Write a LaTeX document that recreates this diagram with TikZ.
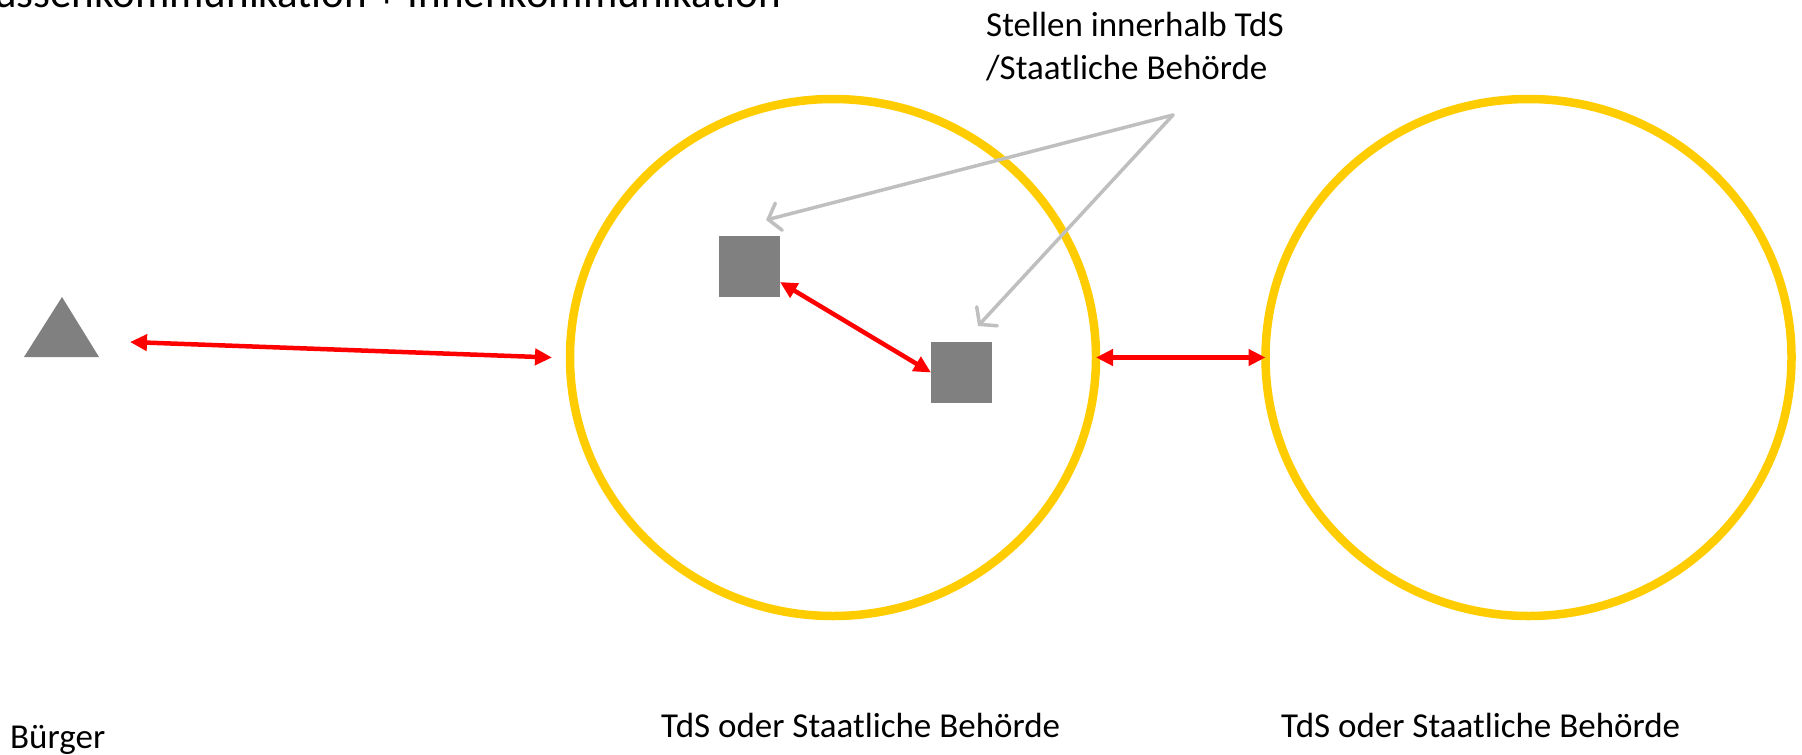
\documentclass[tikz,border=0pt]{standalone}
\usepackage{fontspec}
\setmainfont{Carlito}
\usetikzlibrary{arrows.meta,shapes.geometric,calc}
\definecolor{ringgold}{HTML}{FFCC00}
\definecolor{boxgray}{HTML}{808080}
\definecolor{pointergray}{HTML}{BFBFBF}
\definecolor{linkred}{HTML}{FF0000}

\begin{document}
\begin{tikzpicture}[x=1pt,y=-1pt,
  ring/.style={ellipse, draw=ringgold, line width=8.5pt, minimum width=526pt,
    minimum height=517pt, inner sep=0pt, outer sep=0pt},
  unit/.style={rectangle, fill=boxgray, minimum size=61pt, inner sep=0pt, outer sep=0pt},
  link/.style={draw=linkred, line width=4.5pt,
    {Triangle[length=17pt,width=16pt]}-{Triangle[length=17pt,width=16pt]}},
  pointer/.style={draw=pointergray, line width=3.5pt, line cap=round,
    -{Straight Barb[length=11pt,width=28pt,line cap=round]}},
  caption/.style={font=\fontsize{35}{43}\selectfont, inner sep=0pt, anchor=base west},
]
\useasboundingbox (0,0) rectangle (1802,755);
\clip (0,0) rectangle (1802,755);

% heading, partly above the page edge
\node[anchor=base east, inner sep=0pt, font=\fontsize{43}{50}\selectfont] (heading)
  at (781,7) {Aussenkommunikation + Innenkommunikation};

% citizen
\fill[boxgray] (62,297) -- (99,357) -- (24,357) -- cycle;
\coordinate (citizen) at (130,342);

% two authorities
\node[ring] (tds) at (833,357.5) {};
\node[ring] (peer) at (1528.5,357.5) {};

% offices inside the first authority
\node[unit] (stelleA) at (749.5,266.5) {};
\node[unit] (stelleB) at (961.5,372.5) {};

% communication links
\draw[link] (citizen) -- ([xshift=-18pt]tds.west);
\draw[link] (tds.east) -- (peer.west);
\draw[link] ([yshift=-15.5pt]stelleA.east) -- (stelleB.west);

% annotation pointers
\coordinate (hub) at (1173,115);
\draw[pointer] (hub) -- ([shift={(-14pt,16pt)}]stelleA.north east);
\draw[pointer] (hub) -- ([shift={(47pt,16pt)}]stelleB.north west);

% labels
\node[caption] (offices) at (986,36) {Stellen innerhalb TdS};
\node[caption] (offices2) at (986,79) {/Staatliche Behörde};
\node[caption] (tdslabel) at (661,737) {TdS oder Staatliche Behörde};
\node[caption] (peerlabel) at (1281,737) {TdS oder Staatliche Behörde};
\node[caption] (citizenlabel) at (10,748) {Bürger};
\end{tikzpicture}
\end{document}
